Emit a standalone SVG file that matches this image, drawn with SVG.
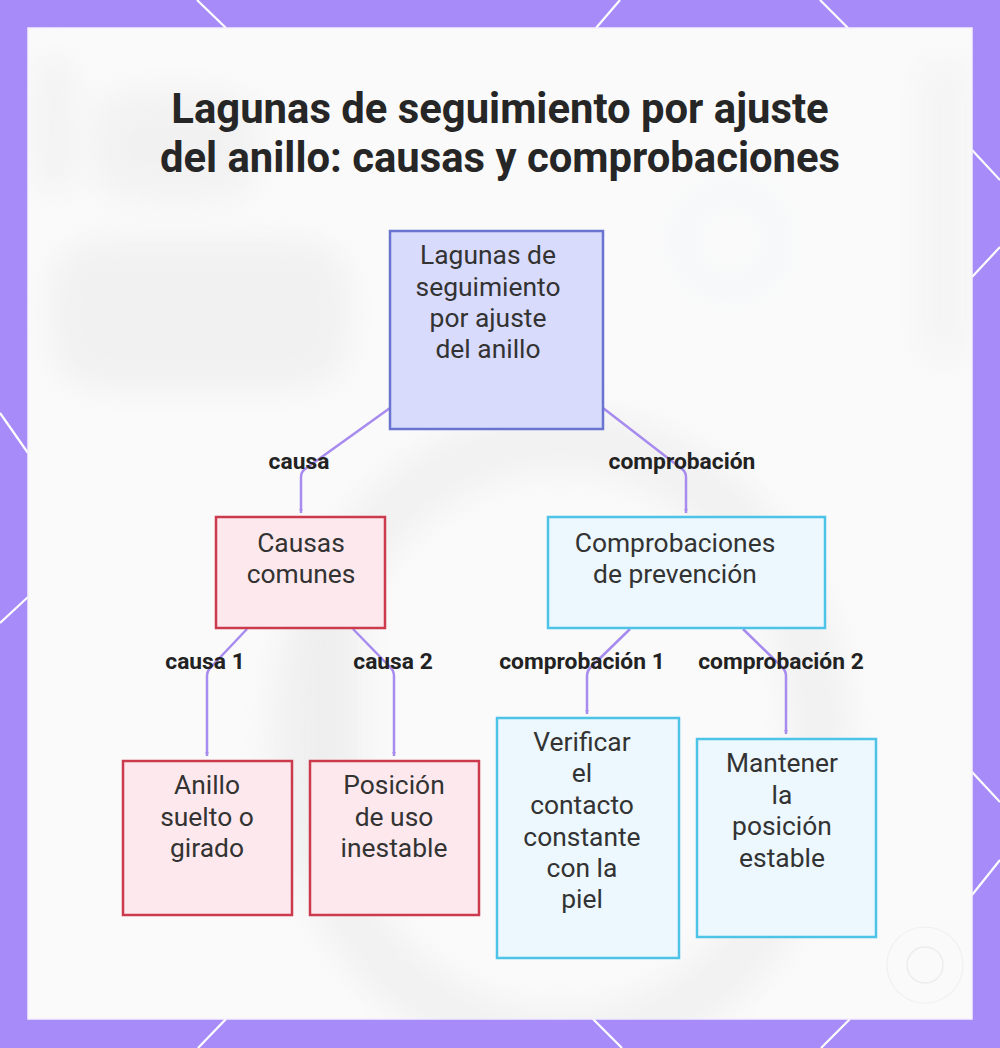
<svg xmlns="http://www.w3.org/2000/svg" width="1000" height="1048" viewBox="0 0 1000 1048">
  <style>
    .title { font-family: Roboto, "Liberation Sans", sans-serif; font-weight: 700; font-size: 41.8px; fill: #262626; text-anchor: middle; }
    .ntext { font-family: Roboto, "Liberation Sans", sans-serif; font-size: 26.4px; fill: #333333; text-anchor: middle; }
    .elabel { font-family: Roboto, "Liberation Sans", sans-serif; font-weight: 700; font-size: 22.8px; fill: #222222; text-anchor: middle; }
    .edge { fill: none; stroke: #a78bef; stroke-width: 2.5; stroke-linejoin: round; }
    .root { fill: #d9dbfc; stroke: #6a73cf; stroke-width: 2.5; }
    .cause { fill: #fde9ed; stroke: #cc3a4e; stroke-width: 2.5; }
    .check { fill: #ecf7fe; stroke: #4ec3e8; stroke-width: 2.5; }
    .deco { stroke: #ffffff; stroke-width: 2.2; }
  </style>
  <defs>
    <marker id="arr" viewBox="0 0 10 10" refX="9" refY="5" markerWidth="5" markerHeight="5" orient="auto" markerUnits="userSpaceOnUse">
      <path d="M0,1 L10,5 L0,9 z" fill="#a78bef"/>
    </marker>
    <filter id="blur" x="-50%" y="-50%" width="200%" height="200%">
      <feGaussianBlur stdDeviation="16"/>
    </filter>
    <clipPath id="panelClip">
      <rect x="28" y="28" width="944" height="991"/>
    </clipPath>
  </defs>

  <!-- frame -->
  <rect x="0" y="0" width="1000" height="1048" fill="#a78bf8"/>
  <g id="frame-lines">
    <line class="deco" x1="197" y1="0" x2="226" y2="28"/>
    <line class="deco" x1="620" y1="0" x2="596" y2="28"/>
    <line class="deco" x1="820" y1="0" x2="848" y2="28"/>
    <line class="deco" x1="226" y1="1019" x2="198" y2="1048"/>
    <line class="deco" x1="593" y1="1019" x2="622" y2="1048"/>
    <line class="deco" x1="850" y1="1019" x2="821" y2="1048"/>
    <line class="deco" x1="0" y1="413" x2="28" y2="453"/>
    <line class="deco" x1="0" y1="623" x2="28" y2="597"/>
    <line class="deco" x1="972" y1="150" x2="1000" y2="180"/>
    <line class="deco" x1="972" y1="277" x2="1000" y2="247"/>
    <line class="deco" x1="972" y1="772" x2="1000" y2="802"/>
    <line class="deco" x1="972" y1="895" x2="1000" y2="860"/>
  </g>

  <!-- panel with faint blurred background -->
  <rect x="28" y="28" width="944" height="991" fill="#fafafa" stroke="#f4f0ff" stroke-width="1.5"/>
  <g clip-path="url(#panelClip)" filter="url(#blur)" opacity="0.4">
    <rect x="40" y="60" width="30" height="130" fill="#e2e2e2"/>
    <rect x="90" y="90" width="170" height="110" rx="40" fill="#e6e6e6"/>
    <rect x="50" y="240" width="300" height="150" rx="50" fill="#e4e4e4"/>
    <ellipse cx="560" cy="740" rx="260" ry="300" fill="none" stroke="#e4e4e4" stroke-width="60"/>
    <rect x="300" y="560" width="60" height="320" rx="25" fill="#dedede"/>
    <circle cx="730" cy="240" r="50" fill="none" stroke="#dfe8f4" stroke-width="10"/>
    <rect x="920" y="60" width="50" height="300" fill="#ececec"/>
  </g>
  <circle cx="925" cy="965" r="38" fill="none" stroke="#f0f0f0" stroke-width="1.2"/>
  <circle cx="925" cy="965" r="18" fill="none" stroke="#ededed" stroke-width="1.5"/>

  <!-- title -->
  <text class="title" x="500" y="123">Lagunas de seguimiento por ajuste</text>
  <text class="title" x="500" y="172">del anillo: causas y comprobaciones</text>

  <!-- connectors -->
  <g id="connectors">
    <path class="edge" d="M390,408 L305,469 Q301,472 301,477 L301,513" marker-end="url(#arr)"/>
    <path class="edge" d="M603,408 L682,469 Q686,472 686,477 L686,513" marker-end="url(#arr)"/>
    <path class="edge" d="M247,629 L211,667 Q207,671 207,676 L207,756" marker-end="url(#arr)"/>
    <path class="edge" d="M353,629 L390,667 Q394,671 394,676 L394,756" marker-end="url(#arr)"/>
    <path class="edge" d="M630,629 L591,667 Q587,671 587,676 L587,714" marker-end="url(#arr)"/>
    <path class="edge" d="M743,629 L782,667 Q786,671 786,676 L786,734" marker-end="url(#arr)"/>
    <text class="elabel" x="299" y="469">causa</text>
    <text class="elabel" x="682" y="469">comprobación</text>
    <text class="elabel" x="205" y="669">causa 1</text>
    <text class="elabel" x="393" y="669">causa 2</text>
    <text class="elabel" x="582" y="669">comprobación 1</text>
    <text class="elabel" x="781" y="669">comprobación 2</text>
  </g>

  <!-- nodes -->
  <g id="node-root">
    <rect class="root" x="390" y="231" width="213" height="198"/>
    <text class="ntext" x="488" y="264">Lagunas de</text>
    <text class="ntext" x="488" y="296">seguimiento</text>
    <text class="ntext" x="488" y="327">por ajuste</text>
    <text class="ntext" x="488" y="358">del anillo</text>
  </g>
  <g id="node-causas">
    <rect class="cause" x="216" y="517" width="169" height="111"/>
    <text class="ntext" x="301" y="552">Causas</text>
    <text class="ntext" x="301" y="583">comunes</text>
  </g>
  <g id="node-comprobaciones">
    <rect class="check" x="548" y="517" width="277" height="111"/>
    <text class="ntext" x="675" y="552">Comprobaciones</text>
    <text class="ntext" x="675" y="583">de prevención</text>
  </g>
  <g id="node-anillo">
    <rect class="cause" x="123" y="761" width="169" height="154"/>
    <text class="ntext" x="207" y="794">Anillo</text>
    <text class="ntext" x="207" y="826">suelto o</text>
    <text class="ntext" x="207" y="857">girado</text>
  </g>
  <g id="node-posicion">
    <rect class="cause" x="310" y="761" width="169" height="154"/>
    <text class="ntext" x="394" y="794">Posición</text>
    <text class="ntext" x="394" y="826">de uso</text>
    <text class="ntext" x="394" y="857">inestable</text>
  </g>
  <g id="node-verificar">
    <rect class="check" x="497" y="718" width="182" height="240"/>
    <text class="ntext" x="582" y="751">Verificar</text>
    <text class="ntext" x="582" y="782">el</text>
    <text class="ntext" x="582" y="814">contacto</text>
    <text class="ntext" x="582" y="846">constante</text>
    <text class="ntext" x="582" y="877">con la</text>
    <text class="ntext" x="582" y="908">piel</text>
  </g>
  <g id="node-mantener">
    <rect class="check" x="697" y="739" width="179" height="198"/>
    <text class="ntext" x="782" y="772">Mantener</text>
    <text class="ntext" x="782" y="804">la</text>
    <text class="ntext" x="782" y="835">posición</text>
    <text class="ntext" x="782" y="867">estable</text>
  </g>
</svg>
